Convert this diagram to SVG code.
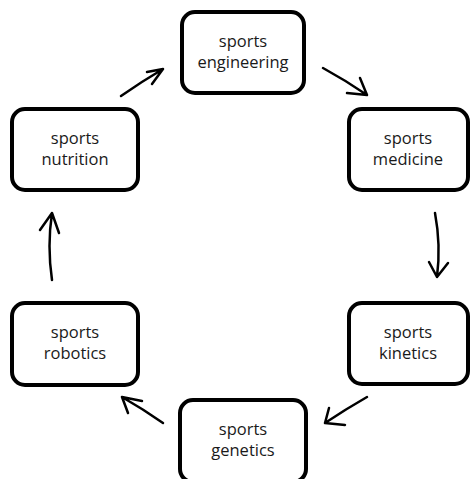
<svg xmlns="http://www.w3.org/2000/svg" width="471" height="479" viewBox="0 0 471 479">
  <style>
    .box { fill: #ffffff; stroke: #000000; stroke-width: 4; }
    .label { font-family: "Open Sans", "DejaVu Sans", sans-serif; font-size: 16.5px; fill: #1a1a1a; text-anchor: middle; }
    .edge { fill: none; stroke: #000000; stroke-width: 2.5; stroke-linecap: round; stroke-linejoin: round; }
  </style>
  <rect width="471" height="479" fill="#ffffff"/>

  <!-- cycle connectors, each drawn as a shaft plus an open arrowhead -->
  <g id="connectors">
    <path class="edge" d="M323,68 Q345,80 367,95 M360,78 L367,95 L347,93"/>
    <path class="edge" d="M435,213 Q441,245 437,277 M429,262 L437,277 L448,263"/>
    <path class="edge" d="M367,397 Q346,409 325,423 M329,408 L325,423 L345,425"/>
    <path class="edge" d="M163,423 Q143,409 122,397 M128,413 L122,397 L142,401"/>
    <path class="edge" d="M52,280 Q47,246 52,213 M40,230 L52,213 L59,233"/>
    <path class="edge" d="M121,96 Q141,82 163,69 M147,72 L163,69 L152,84"/>
  </g>

  <g id="engineering">
    <rect class="box" x="182" y="12" width="122" height="81" rx="13"/>
    <text class="label" x="243" y="47">sports</text>
    <text class="label" x="243" y="68">engineering</text>
  </g>
  <g id="medicine">
    <rect class="box" x="349" y="109" width="119" height="81" rx="13"/>
    <text class="label" x="408" y="144">sports</text>
    <text class="label" x="408" y="165">medicine</text>
  </g>
  <g id="kinetics">
    <rect class="box" x="349" y="303" width="119" height="81" rx="13"/>
    <text class="label" x="408" y="338">sports</text>
    <text class="label" x="408" y="359">kinetics</text>
  </g>
  <g id="genetics">
    <rect class="box" x="180" y="400" width="126" height="82" rx="13"/>
    <text class="label" x="243" y="435">sports</text>
    <text class="label" x="243" y="456">genetics</text>
  </g>
  <g id="robotics">
    <rect class="box" x="12" y="303" width="126" height="82" rx="13"/>
    <text class="label" x="75" y="338">sports</text>
    <text class="label" x="75" y="359">robotics</text>
  </g>
  <g id="nutrition">
    <rect class="box" x="12" y="109" width="126" height="81" rx="13"/>
    <text class="label" x="75" y="144">sports</text>
    <text class="label" x="75" y="165">nutrition</text>
  </g>
</svg>
